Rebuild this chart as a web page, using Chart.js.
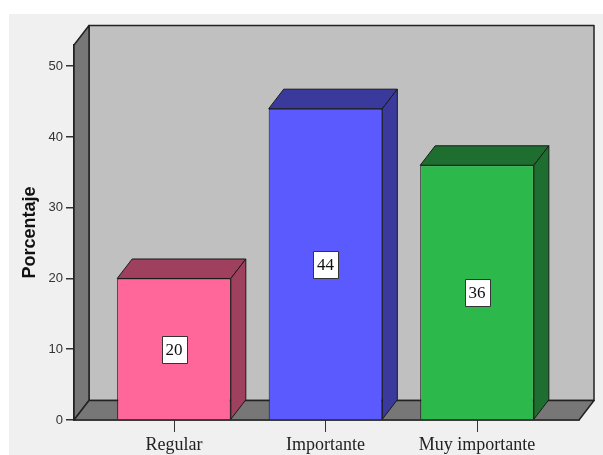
<!DOCTYPE html>
<html>
<head>
<meta charset="utf-8">
<script src="https://cdn.jsdelivr.net/npm/chart.js@4/dist/chart.umd.min.js"></script>
<style>
  html, body { margin: 0; padding: 0; background: #fff; }
  #wrap { width: 603px; height: 455px; }
</style>
</head>
<body>
<div id="wrap"><canvas id="chart" width="603" height="455"></canvas></div>
<script>
const categories = ['Regular', 'Importante', 'Muy importante'];
const percentages = [20, 44, 36];
const yTicks = [0, 10, 20, 30, 40, 50];

const frontColors = ['#ff6699', '#5a5aff', '#2db84b'];
const sideColors = ['#9e405e', '#3a3a9c', '#1e6e30'];

// depth of the fake 3d box
const DX = 15, DY = 19.5;

function poly(ctx, pts, fill) {
  ctx.beginPath();
  ctx.moveTo(pts[0][0], pts[0][1]);
  for (let i = 1; i < pts.length; i++) ctx.lineTo(pts[i][0], pts[i][1]);
  ctx.closePath();
  ctx.fillStyle = fill;
  ctx.fill();
  ctx.stroke();
}

const box3d = {
  id: 'box3d',
  beforeDraw(chart) {
    const ctx = chart.ctx;
    ctx.save();
    ctx.fillStyle = '#f0f0f0';
    ctx.fillRect(9, 14, chart.width - 9, chart.height - 14);
    ctx.restore();
  },
  beforeDatasetsDraw(chart) {
    const { ctx, chartArea: a } = chart;
    ctx.save();
    ctx.strokeStyle = '#222';
    ctx.lineWidth = 1.5;
    ctx.lineJoin = 'round';
    // back wall
    poly(ctx, [[a.left + DX, a.top - DY], [a.right + DX, a.top - DY],
               [a.right + DX, a.bottom - DY], [a.left + DX, a.bottom - DY]], '#c0c0c0');
    // left wall
    poly(ctx, [[a.left, a.top], [a.left + DX, a.top - DY],
               [a.left + DX, a.bottom - DY], [a.left, a.bottom]], '#777777');
    // floor
    poly(ctx, [[a.left, a.bottom], [a.left + DX, a.bottom - DY],
               [a.right + DX, a.bottom - DY], [a.right, a.bottom]], '#777777');
    ctx.restore();
  },
  afterDatasetsDraw(chart) {
    const ctx = chart.ctx;
    const meta = chart.getDatasetMeta(0);
    ctx.save();
    ctx.lineWidth = 1;
    ctx.lineJoin = 'round';
    meta.data.forEach((bar, i) => {
      const { x, y, base, width } = bar.getProps(['x', 'y', 'base', 'width'], true);
      const l = x - width / 2, r = x + width / 2;
      ctx.strokeStyle = '#1a1a1a';
      // top face
      poly(ctx, [[l, y], [l + DX, y - DY], [r + DX, y - DY], [r, y]], sideColors[i]);
      // side face
      poly(ctx, [[r, y], [r + DX, y - DY], [r + DX, base - DY], [r, base]], sideColors[i]);
      // value label in the middle of the front face
      const v = percentages[i];
      const midY = chart.scales.y.getPixelForValue(v / 2);
      ctx.font = '17px "Liberation Serif", "Times New Roman", serif';
      ctx.textAlign = 'center';
      ctx.textBaseline = 'middle';
      const w = Math.round(ctx.measureText(String(v)).width + 8);
      const h = 27;
      const bx = Math.round(x - w / 2) + 0.5, by = Math.round(midY - h / 2) + 0.5;
      ctx.fillStyle = '#ffffff';
      ctx.fillRect(bx, by, w, h);
      ctx.strokeStyle = '#333';
      ctx.strokeRect(bx, by, w, h);
      ctx.fillStyle = '#111';
      ctx.fillText(String(v), x, midY + 1);
    });
    ctx.restore();
  }
};

new Chart(document.getElementById('chart'), {
  type: 'bar',
  data: {
    datasets: [{
      data: percentages.map((v, i) => ({ x: i, y: v })),
      backgroundColor: frontColors,
      borderColor: '#1a1a1a',
      borderWidth: 1,
      categoryPercentage: 1,
      barPercentage: 0.75
    }]
  },
  options: {
    responsive: false,
    animation: false,
    layout: { padding: { left: 0, top: 45, right: 24, bottom: 0 } },
    plugins: {
      legend: { display: false },
      tooltip: { enabled: false }
    },
    scales: {
      x: {
        type: 'linear',
        offset: false,
        min: -0.66,
        max: 2.673,
        afterBuildTicks: (s) => { s.ticks = categories.map((_, i) => ({ value: i })); },
        afterFit: (s) => { s.height = 35; },
        grid: { offset: false, drawOnChartArea: false, tickLength: 12, color: '#333', lineWidth: 1 },
        border: { display: true, color: '#222', width: 1.5 },
        ticks: {
          autoSkip: false,
          maxRotation: 0,
          padding: 2,
          color: '#222',
          font: { family: '"Liberation Serif", "Times New Roman", serif', size: 18 },
          callback: (v) => categories[v]
        }
      },
      y: {
        min: 0,
        max: 53,
        afterBuildTicks: (s) => { s.ticks = yTicks.map(v => ({ value: v })); },
        afterFit: (s) => { s.width = 74; },
        grid: { drawOnChartArea: false, tickLength: 8, color: '#333', lineWidth: 1.5 },
        border: { display: true, color: '#222', width: 1.5 },
        ticks: {
          padding: 3,
          color: '#333',
          font: { family: 'Arial, "Liberation Sans", sans-serif', size: 13 }
        },
        title: {
          display: true,
          text: 'Porcentaje',
          color: '#111',
          padding: { top: 19, bottom: 0 },
          font: { family: 'Arial, "Liberation Sans", sans-serif', size: 18, weight: 'bold' }
        }
      }
    }
  },
  plugins: [box3d]
});
</script>
</body>
</html>
